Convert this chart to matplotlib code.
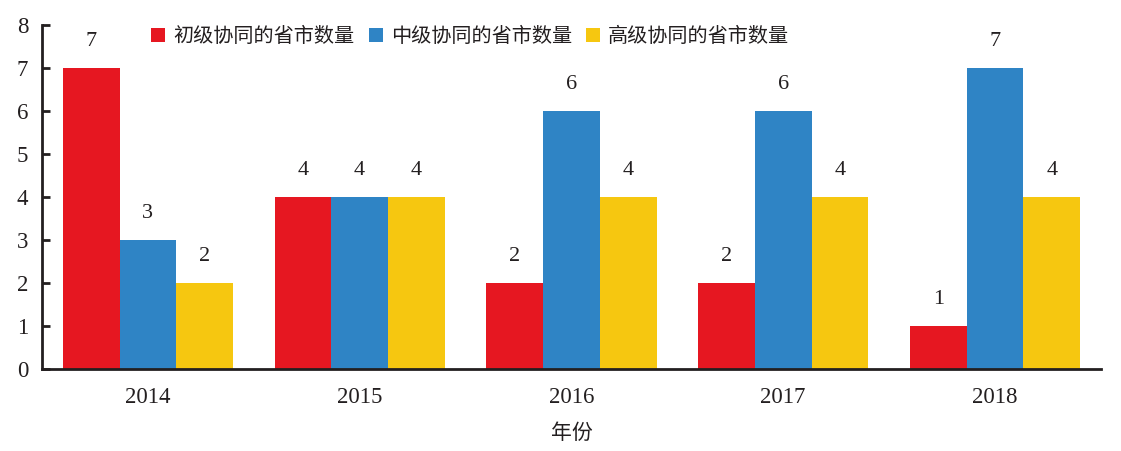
import matplotlib
matplotlib.use('Agg')
import matplotlib.pyplot as plt
import numpy as np

years = ['2014', '2015', '2016', '2017', '2018']
series_names = ['初级协同的省市数量', '中级协同的省市数量', '高级协同的省市数量']
primary = [7, 4, 2, 2, 1]
middle = [3, 4, 6, 6, 7]
high = [2, 4, 4, 4, 4]
colors = ['#e61721', '#2f84c5', '#f6c710']

ink = '#231f20'
num_font = ['Liberation Serif', 'Noto Sans CJK SC']
cjk_font = ['Noto Sans CJK SC', 'DejaVu Sans']

fig = plt.figure(figsize=(11.21, 4.51), dpi=100)
ax = fig.add_axes([0.0375, 0.182, 0.9445, 0.7626])

x = np.arange(len(years))
w = 0.268
for i, (vals, name, c) in enumerate(zip([primary, middle, high], series_names, colors)):
    bars = ax.bar(x + (i - 1) * w, vals, width=w, color=c, label=name)
    for b, v in zip(bars, vals):
        ax.annotate(str(v), (b.get_x() + b.get_width() / 2, v), xytext=(0, 12),
                    textcoords='offset points', ha='center', va='bottom',
                    fontsize=16, color=ink, family=num_font)

ax.set_xlim(-0.5, 4.5)
ax.set_ylim(0, 8)
ax.set_yticks(range(9))
ax.set_xticks(x)
ax.set_xticklabels(years, family=num_font, fontsize=16.5, color=ink)
for t in ax.get_yticklabels():
    t.set_family(num_font)
    t.set_fontsize(16.5)
    t.set_color(ink)
ax.tick_params(axis='y', direction='in', length=6, width=2, color=ink, pad=10)
ax.tick_params(axis='x', length=0, pad=13)
for s in ['top', 'right']:
    ax.spines[s].set_visible(False)
for s in ['left', 'bottom']:
    ax.spines[s].set_color(ink)
    ax.spines[s].set_linewidth(2)
ax.set_xlabel('年份', family=cjk_font, fontsize=15, color=ink, labelpad=10)

leg = ax.legend(loc='upper left', bbox_to_anchor=(0.086, 1.05), ncol=3, frameon=False,
                handlelength=0.7, handleheight=0.7, handletextpad=0.4, columnspacing=0.7,
                prop={'family': cjk_font, 'size': 14.5})
for t in leg.get_texts():
    t.set_color(ink)

fig.savefig('out.png', dpi=100)
